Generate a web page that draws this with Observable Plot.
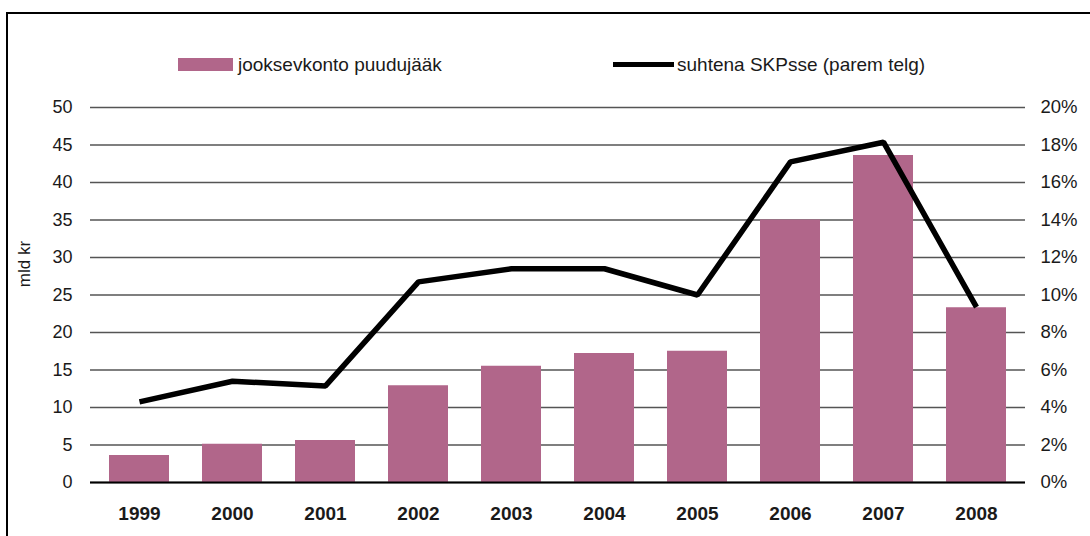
<!DOCTYPE html>
<html>
<head>
<meta charset="utf-8">
<script src="https://cdn.jsdelivr.net/npm/d3@7"></script>
<script src="https://cdn.jsdelivr.net/npm/@observablehq/plot@0.6"></script>
<style>
  html, body { margin: 0; padding: 0; background: #fff; overflow: hidden; }
  #wrap { position: relative; width: 1090px; height: 536px; font-family: "Liberation Sans", Arial, sans-serif; color: #1a1a1a; }
  #frame { position: absolute; left: 6px; top: 12px; width: 1100px; height: 600px; border-top: 2px solid #000; border-left: 2px solid #000; }
  #chart { position: absolute; left: 0; top: 0; }
  .leg { position: absolute; font-size: 19px; line-height: 19px; white-space: nowrap; }
  #ylab { position: absolute; left: 25px; top: 264px; font-size: 17px; transform: translate(-50%, -50%) rotate(-90deg); white-space: nowrap; }
</style>
</head>
<body>
<div id="wrap">
  <div id="frame"></div>
  <div id="chart"></div>
  <div id="legend"></div>
  <div id="ylab">mld kr</div>
</div>
<script>
const years = ["1999","2000","2001","2002","2003","2004","2005","2006","2007","2008"];
const deficit = [3.6, 5.1, 5.6, 12.9, 15.5, 17.2, 17.5, 35.0, 43.6, 23.3];
const gdpShare = [4.3, 5.4, 5.15, 10.7, 11.4, 11.4, 10.0, 17.1, 18.15, 9.35];
const leftTicks = [0, 5, 10, 15, 20, 25, 30, 35, 40, 45, 50];
const rightTicks = [0, 2, 4, 6, 8, 10, 12, 14, 16, 18, 20];
const seriesNames = ["jooksevkonto puudujääk", "suhtena SKPsse (parem telg)"];

const barColor = "#b1668a";
const ratio = 50 / 20; // right axis (0–20%) mapped onto left axis (0–50)

const table = years.map((year, i) => ({ year, deficit: deficit[i], share: gdpShare[i] }));

const chart = Plot.plot({
  width: 1090,
  height: 536,
  marginTop: 107,
  marginBottom: 54,
  marginLeft: 90,
  marginRight: 65,
  style: { fontFamily: "'Liberation Sans', Arial, sans-serif", fontSize: "18px", color: "#1a1a1a", background: "transparent", overflow: "visible" },
  x: { domain: years, paddingInner: 0.36, paddingOuter: 0.18 },
  y: { domain: [0, 50] },
  marks: [
    Plot.gridY(leftTicks, { stroke: "#555", strokeOpacity: 1, strokeWidth: 1.3 }),
    Plot.barY(table, { x: "year", y: "deficit", fill: barColor }),
    Plot.ruleY([0], { stroke: "#000", strokeWidth: 2 }),
    Plot.lineY(table, { x: "year", y: d => d.share * ratio, stroke: "#000", strokeWidth: 5.5, strokeLinejoin: "miter", strokeLinecap: "butt" }),
    Plot.axisY(leftTicks, { anchor: "left", tickSize: 0, tickPadding: 18, fontSize: 18, label: null }),
    Plot.axisY(rightTicks.map(d => d * ratio), { anchor: "right", tickSize: 0, tickPadding: 15, fontSize: 18.5, label: null, tickFormat: d => Math.round(d / ratio) + "%" }),
    Plot.axisX({ tickSize: 0, tickPadding: 24, fontSize: 19, fontWeight: "bold", label: null })
  ]
});
document.getElementById("chart").appendChild(chart);

// Legend
const legend = document.getElementById("legend");
legend.innerHTML = `
  <div style="position:absolute;left:178px;top:58px;width:55px;height:13px;background:${barColor}"></div>
  <div class="leg" style="left:238px;top:55px;">${seriesNames[0]}</div>
  <div style="position:absolute;left:613px;top:62px;width:61px;height:5px;background:#000"></div>
  <div class="leg" style="left:677px;top:55px;">${seriesNames[1]}</div>
`;
</script>
</body>
</html>
